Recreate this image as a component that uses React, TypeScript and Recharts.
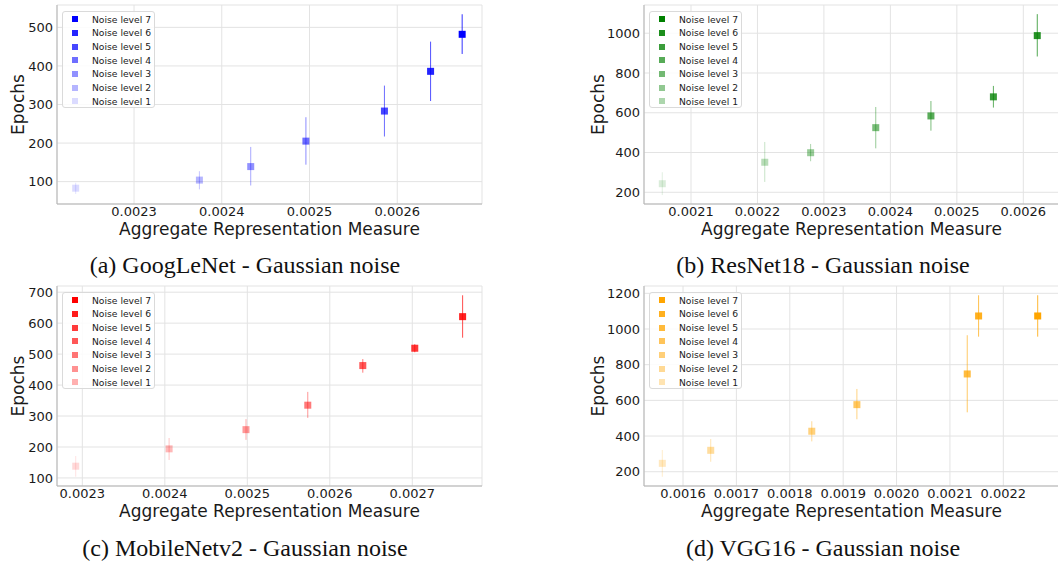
import React from 'react'
import { ScatterChart, Scatter, XAxis, YAxis, CartesianGrid, ErrorBar, Legend } from 'recharts'

const noiseLevels = [
  'Noise level 1',
  'Noise level 2',
  'Noise level 3',
  'Noise level 4',
  'Noise level 5',
  'Noise level 6',
  'Noise level 7',
]

// (a) GoogLeNet
const googlenetX = [0.0022335, 0.0023745, 0.002433, 0.0024959, 0.0025854, 0.002638, 0.002674]
const googlenetY = [83, 104, 139, 205, 283, 386, 482]
const googlenetLo = [68, 80, 90, 144, 217, 309, 431]
const googlenetHi = [97, 127, 190, 267, 349, 463, 534]
const googlenetXTicks = [0.0023, 0.0024, 0.0025, 0.0026]
const googlenetYTicks = [100, 200, 300, 400, 500]

// (b) ResNet18
const resnetX = [0.0020568, 0.002211, 0.00228, 0.002378, 0.002461, 0.002555, 0.002621]
const resnetY = [243, 351, 399, 525, 584, 680, 988]
const resnetLo = [186, 252, 356, 421, 510, 626, 883]
const resnetHi = [301, 453, 443, 629, 659, 735, 1096]
const resnetXTicks = [0.0021, 0.0022, 0.0023, 0.0024, 0.0025, 0.0026]
const resnetYTicks = [200, 400, 600, 800, 1000]

// (c) MobileNetv2
const mobilenetX = [0.002292, 0.0024052, 0.0024984, 0.0025733, 0.00264, 0.002703, 0.002761]
const mobilenetY = [138, 194, 256, 335, 463, 519, 621]
const mobilenetLo = [104, 158, 223, 294, 440, 506, 553]
const mobilenetHi = [171, 229, 290, 378, 484, 532, 690]
const mobilenetXTicks = [0.0023, 0.0024, 0.0025, 0.0026, 0.0027]
const mobilenetYTicks = [100, 200, 300, 400, 500, 600, 700]

// (d) VGG16
const vggX = [0.0015612, 0.0016519, 0.0018412, 0.0019257, 0.0021324, 0.0021537, 0.0022644]
const vggY = [247, 320, 427, 576, 748, 1073, 1073]
const vggLo = [172, 256, 370, 494, 533, 957, 957]
const vggHi = [322, 383, 483, 664, 965, 1189, 1189]
const vggXTicks = [0.0016, 0.0017, 0.0018, 0.0019, 0.002, 0.0021, 0.0022]
const vggYTicks = [200, 400, 600, 800, 1000, 1200]

const FONT = 'DejaVu Sans'
const INK = '#1a1a1a'
const FRAME = '#b3b3b3'
const GRID = '#e3e3e3'

const panels = [
  {
    key: 'googlenet', caption: '(a) GoogLeNet - Gaussian noise',
    xs: googlenetX, ys: googlenetY, lo: googlenetLo, hi: googlenetHi,
    xTicks: googlenetXTicks, yTicks: googlenetYTicks,
    xDomain: [0.0022122, 0.0026966], yDomain: [42, 558],
    rgb: '0,0,255', pointAlpha: [0.14, 0.29, 0.43, 0.57, 0.72, 0.86, 1], legendAlpha: [0.14, 0.29, 0.43, 0.57, 0.72, 0.86, 1],
    left: 0, top: 0, width: 490, height: 240, epochsDx: -33, captionX: 245, captionTop: 253,
  },
  {
    key: 'resnet', caption: '(b) ResNet18 - Gaussian noise',
    xs: resnetX, ys: resnetY, lo: resnetLo, hi: resnetHi,
    xTicks: resnetXTicks, yTicks: resnetYTicks,
    xDomain: [0.0020293, 0.0026537], yDomain: [141, 1142],
    rgb: '0,128,0', pointAlpha: [0.15, 0.28, 0.4, 0.52, 0.65, 0.78, 0.85], legendAlpha: [0.32, 0.43, 0.55, 0.66, 0.77, 0.89, 1],
    left: 587, top: 0, width: 480, height: 240, epochsDx: -40, captionX: 823, captionTop: 253,
  },
  {
    key: 'mobilenet', caption: '(c) MobileNetv2 - Gaussian noise',
    xs: mobilenetX, ys: mobilenetY, lo: mobilenetLo, hi: mobilenetHi,
    xTicks: mobilenetXTicks, yTicks: mobilenetYTicks,
    xDomain: [0.0022693, 0.0027845], yDomain: [74, 720],
    rgb: '255,0,0', pointAlpha: [0.15, 0.28, 0.4, 0.52, 0.65, 0.78, 0.87], legendAlpha: [0.31, 0.43, 0.54, 0.66, 0.77, 0.89, 1],
    left: 0, top: 281, width: 490, height: 241, epochsDx: -33, captionX: 245, captionTop: 536,
  },
  {
    key: 'vgg', caption: '(d) VGG16 - Gaussian noise',
    xs: vggX, ys: vggY, lo: vggLo, hi: vggHi,
    xTicks: vggXTicks, yTicks: vggYTicks,
    xDomain: [0.0015269, 0.0023043], yDomain: [120, 1241],
    rgb: '255,165,0', pointAlpha: [0.25, 0.38, 0.5, 0.62, 0.75, 0.88, 1], legendAlpha: [0.3, 0.42, 0.53, 0.65, 0.77, 0.88, 1],
    left: 587, top: 281, width: 480, height: 241, epochsDx: -40, captionX: 823, captionTop: 536,
  },
]

const square = (props: any) => (
  <rect x={props.cx - 3.5} y={props.cy - 3.5} width={7} height={7} fill={props.fill} />
)

const epochsLabel = (dx: number) => (props: any) => {
  const vb = props.viewBox
  const x = vb.x + vb.width + dx
  const y = vb.y + vb.height / 2
  return (
    <text x={x} y={y} transform={`rotate(-90, ${x}, ${y})`} textAnchor="middle" fontSize={17} fontFamily={FONT} fill={INK}>
      Epochs
    </text>
  )
}

const measureLabel = (props: any) => {
  const vb = props.viewBox
  return (
    <text x={vb.x + vb.width / 2} y={vb.y + 31} textAnchor="middle" fontSize={17} fontFamily={FONT} fill={INK}>
      Aggregate Representation Measure
    </text>
  )
}

function LevelLegend({ rgb, alphas }: { rgb: string; alphas: number[] }) {
  return (
    <div
      style={{
        width: 93, height: 97, boxSizing: 'border-box', border: '1px solid #dadada', borderRadius: 3,
        background: 'rgba(255,255,255,0.85)', paddingTop: 1, fontFamily: FONT, fontSize: 9.2, color: INK,
      }}
    >
      {noiseLevels.map((_, k) => {
        const i = noiseLevels.length - 1 - k
        return (
          <div key={i} style={{ height: 13.67, display: 'flex', alignItems: 'center', whiteSpace: 'nowrap' }}>
            <span style={{ width: 6, height: 6, marginLeft: 9, marginRight: 14, background: `rgba(${rgb},${alphas[i]})` }} />
            <span>{noiseLevels[i]}</span>
          </div>
        )
      })}
    </div>
  )
}

function Panel({ p }: { p: (typeof panels)[number] }) {
  const tick = { fontSize: 13, fontFamily: FONT, fill: INK }
  return (
    <div style={{ position: 'absolute', left: p.left, top: p.top }}>
      <ScatterChart width={p.width} height={p.height} margin={{ top: 5, right: 8, bottom: 0, left: 0 }}>
        <CartesianGrid stroke={GRID} strokeWidth={1} />
        <XAxis
          type="number" dataKey="x" domain={p.xDomain} ticks={p.xTicks} allowDataOverflow
          height={36} tickSize={0} tickMargin={3} tick={tick} axisLine={{ stroke: FRAME }} tickLine={false}
          tickFormatter={(v: number) => v.toFixed(4)} interval={0}
          label={measureLabel}
        />
        <YAxis
          type="number" dataKey="y" domain={p.yDomain} ticks={p.yTicks} allowDataOverflow
          width={57} tickSize={0} tickMargin={4} tick={tick} axisLine={{ stroke: FRAME }} tickLine={false} interval={0}
          label={epochsLabel(p.epochsDx)}
        />
        <XAxis xAxisId="top" orientation="top" type="number" domain={p.xDomain} allowDataOverflow height={0} tick={false} tickLine={false} axisLine={{ stroke: FRAME }} />
        <YAxis yAxisId="right" orientation="right" type="number" domain={p.yDomain} allowDataOverflow width={0} tick={false} tickLine={false} axisLine={{ stroke: FRAME }} />
        <Legend
          layout="vertical" align="center" verticalAlign="middle"
          wrapperStyle={{ left: 62, top: 10.5, width: 93, height: 97 }}
          content={() => <LevelLegend rgb={p.rgb} alphas={p.legendAlpha} />}
        />
        {p.xs.map((x, i) => {
          const c = `rgba(${p.rgb},${p.pointAlpha[i]})`
          return (
            <Scatter
              key={i} name={noiseLevels[i]} data={[{ x, y: p.ys[i], err: [p.ys[i] - p.lo[i], p.hi[i] - p.ys[i]] }]}
              fill={c} shape={square} isAnimationActive={false}
            >
              <ErrorBar dataKey="err" direction="y" width={0} stroke={c} strokeWidth={1} strokeOpacity={0.8} isAnimationActive={false} />
            </Scatter>
          )
        })}
      </ScatterChart>
    </div>
  )
}

export default function App() {
  return (
    <div style={{ position: 'absolute', left: 0, top: 0, width: 1058, height: 565, overflow: 'hidden', background: '#fff' }}>
      {panels.map((p) => (
        <Panel key={p.key} p={p} />
      ))}
      {panels.map((p) => (
        <div
          key={p.key + '-cap'}
          style={{
            position: 'absolute', left: p.captionX - 250, top: p.captionTop, width: 500, textAlign: 'center',
            fontFamily: '"Liberation Serif", serif', fontSize: 24, lineHeight: '24px', color: '#111', whiteSpace: 'nowrap',
          }}
        >
          {p.caption}
        </div>
      ))}
    </div>
  )
}
